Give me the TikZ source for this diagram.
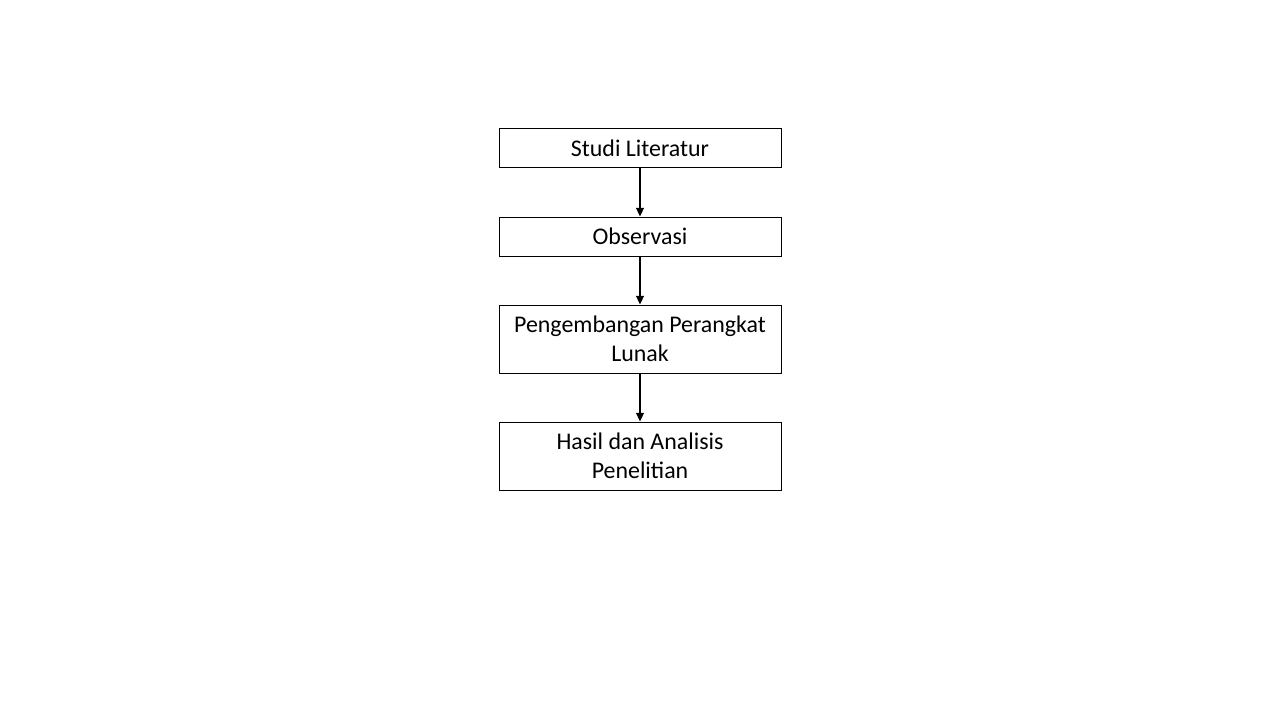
\documentclass[tikz,border=0pt]{standalone}
\usepackage{fontspec}
\setmainfont{Carlito}
\usepackage{tikz}
\usetikzlibrary{arrows.meta, positioning}

\begin{document}
\begin{tikzpicture}[
	box/.style={draw, line width=0.5pt, minimum width=5.64cm, align=center, inner sep=0pt, font=\fontsize{13.6}{16.4}\selectfont},
	arr/.style={-{Triangle[length=5pt, width=4.5pt]}, line width=0.8pt}]
	% Alur penelitian
	\useasboundingbox (0,0) rectangle (25.6,14.4);
	\node[box, minimum height=0.77cm] (studi) at (12.8,11.44) {Studi Literatur};
	\node[box, minimum height=0.78cm] (obs) at (12.8,9.67) {Observasi};
	\node[box, minimum height=1.36cm] (pl) at (12.8,7.62) {Pengembangan Perangkat\\Lunak};
	\node[box, minimum height=1.36cm] (hasil) at (12.8,5.28) {Hasil dan Analisis\\Penelitian};
	\draw[arr] (studi) -- (obs);
	\draw[arr] (obs) -- (pl);
	\draw[arr] (pl) -- (hasil);
\end{tikzpicture}
\end{document}
